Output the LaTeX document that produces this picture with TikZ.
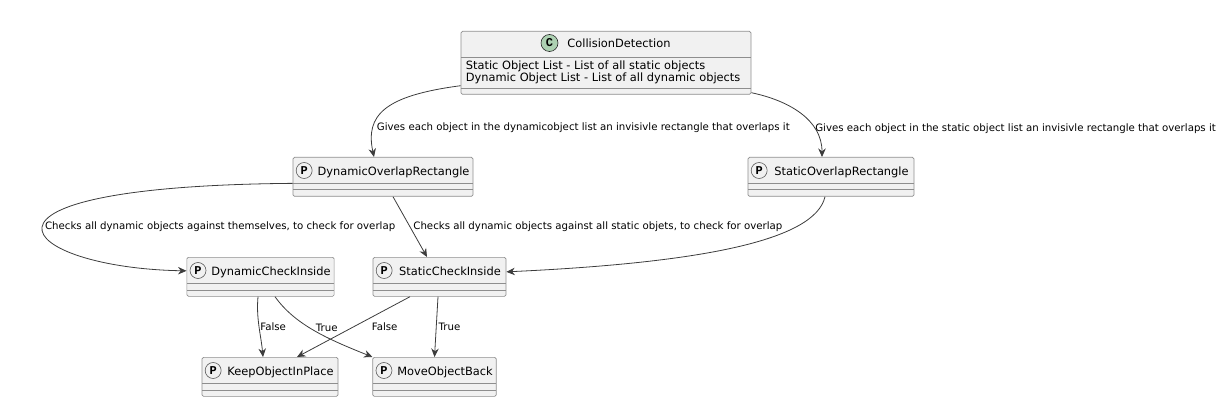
\documentclass[tikz,border=0pt]{standalone}
\usepackage{fontspec}
\setmainfont{DejaVu Sans}
\newfontfamily\markfont{Liberation Mono}
\usetikzlibrary{arrows.meta,positioning,calc}
\definecolor{boxfill}{HTML}{F1F1F1}
\definecolor{boxline}{HTML}{8E8E8E}
\definecolor{wire}{HTML}{3C3C3C}
\definecolor{markgreen}{HTML}{ADD1B2}

\begin{document}
\begin{tikzpicture}[x=1pt,y=-1pt,
    cls/.style={draw=boxline,fill=boxfill,line width=0.7pt,rounded corners=1.5pt,
        inner xsep=3.5pt,inner ysep=0pt,anchor=north,font=\fontsize{11.4}{13}\selectfont},
    pbox/.style={cls,minimum height=39pt,text height=18pt,text depth=21pt,
        execute at begin node={\hspace*{21pt}},
        path picture={\draw[boxline,line width=0.7pt]
            ([yshift=6.5pt]path picture bounding box.south west) -- ([yshift=6.5pt]path picture bounding box.south east)
            ([yshift=13pt]path picture bounding box.south west) -- ([yshift=13pt]path picture bounding box.south east);}},
    pmark/.style={circle,draw=black!65,fill=boxfill,line width=0.6pt,minimum size=16pt,inner sep=0pt,
        font=\markfont\bfseries\fontsize{12}{12}\selectfont},
    attr/.style={inner sep=0pt,align=left,font=\fontsize{11.4}{12}\selectfont},
    flow/.style={draw=wire,line width=0.8pt,-{Stealth[length=8.5pt,width=7.5pt,inset=2.8pt]}},
    lbl/.style={inner sep=1pt,anchor=west,font=\fontsize{10.2}{12}\selectfont}]
    \useasboundingbox (0,0) rectangle (1226,406);

    % class box
    \node[cls,minimum width=290pt,minimum height=63pt,text height=16pt,text depth=47pt,
        path picture={\draw[boxline,line width=0.7pt]
            ([yshift=6pt]path picture bounding box.south west) -- ([yshift=6pt]path picture bounding box.south east)
            ([yshift=-26pt]path picture bounding box.north west) -- ([yshift=-26pt]path picture bounding box.north east);}]
        (cd) at (606,31) {\hspace*{26pt}CollisionDetection};
    \node[circle,draw=black!85,fill=markgreen,line width=0.6pt,minimum size=17pt,inner sep=0pt,
        font=\markfont\bfseries\fontsize{12}{12}\selectfont] (cdm) at ($(cd.north)+(-56.5,12)$) {C};
    \node[attr,anchor=north west,below right=30pt and 5pt of cd.north west] (cdattr)
        {Static Object List - List of all static objects\\Dynamic Object List - List of all dynamic objects};

    % protocol boxes
    \node[pbox,minimum width=180pt] (dor) at (383,157) {DynamicOverlapRectangle};
    \node[pbox,minimum width=166pt] (sor) at (831,157) {StaticOverlapRectangle};
    \node[pbox,minimum width=147pt] (dci) at (260.5,257) {DynamicCheckInside};
    \node[pbox,minimum width=133pt] (sci) at (439.5,257) {StaticCheckInside};
    \node[pbox,minimum width=136pt] (kop) at (270,357) {KeepObjectInPlace};
    \node[pbox,minimum width=123pt] (mob) at (434.5,357) {MoveObjectBack};
    \foreach \n in {dor,sor,dci,sci,kop,mob}
        \node[pmark] (m\n) at ($(\n.north west)+(11.5,13.5)$) {P};

    % arrows
    \draw[flow] ([yshift=9pt]cd.south west) .. controls +(-76,10) and +(-9,-42) .. ([xshift=-9pt]dor.north)
        node[lbl,pos=.73,xshift=2pt] {Gives each object in the dynamicobject list an invisivle rectangle that overlaps it};
    \draw[flow] ([yshift=2pt]cd.south east) .. controls +(38,8) and +(0,-37) .. ([xshift=-9pt]sor.north)
        node[lbl,pos=.7,xshift=0pt] {Gives each object in the static object list an invisivle rectangle that overlaps it};
    \draw[flow] ([yshift=-6.5pt]dor.west) .. controls +(-358,3) and +(-167,-3) .. ([yshift=6pt]dci.west)
        node[lbl,pos=.5,xshift=1pt] {Checks all dynamic objects against themselves, to check for overlap};
    \draw[flow] ([xshift=10pt]dor.south) -- ([xshift=-12.5pt]sci.north)
        node[lbl,pos=.5,xshift=2pt] {Checks all dynamic objects against all static objets, to check for overlap};
    \draw[flow] ([xshift=-6pt]sor.south) .. controls +(-10,44) and +(194,-9) .. ([yshift=5pt]sci.east);
    \draw[flow] ([xshift=-2.5pt]dci.south) .. controls +(-2,22) and +(-2,-22) .. ([xshift=-7pt]kop.north)
        node[lbl,pos=.5] {False};
    \draw[flow] ([xshift=14.5pt]dci.south) .. controls +(20,28) and +(-45,-18) .. (mob.north west)
        node[lbl,pos=.45,xshift=5pt] {True};
    \draw[flow] ([xshift=-29.5pt]sci.south) -- ([xshift=27pt]kop.north)
        node[lbl,pos=.5,xshift=17pt] {False};
    \draw[flow] ([xshift=-1.5pt]sci.south) -- (mob.north)
        node[lbl,pos=.5,xshift=1pt] {True};
\end{tikzpicture}
\end{document}
